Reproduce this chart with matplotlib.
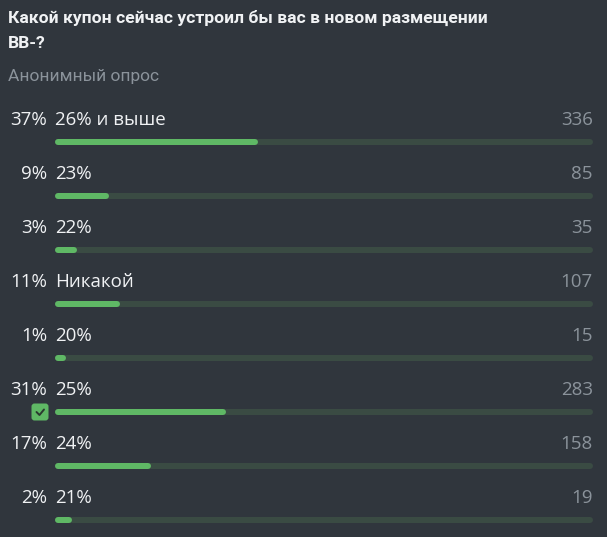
import matplotlib.pyplot as plt
from matplotlib.patches import FancyBboxPatch
from matplotlib.transforms import blended_transform_factory

plt.rcParams['font.family'] = ['Open Sans', 'DejaVu Sans']

title_lines = ["Какой купон сейчас устроил бы вас в новом размещении", "BB-?"]
subtitle = "Анонимный опрос"
options = ["26% и выше", "23%", "22%", "Никакой", "20%", "25%", "24%", "21%"]
percents = [37, 9, 3, 11, 1, 31, 17, 2]
votes = [336, 85, 35, 107, 15, 283, 158, 19]
chosen = 5

BG = '#30363d'
GREEN = '#5fb865'
TRACK = '#3a4b43'
WHITE = '#f0f2f4'
GRAY = '#8b939b'

W, H = 607, 537
fig = plt.figure(figsize=(W / 100, H / 100), dpi=100)
fig.patch.set_facecolor(BG)

# pixel overlay for header and decorations
ax = fig.add_axes([0, 0, 1, 1])
ax.set_xlim(0, W)
ax.set_ylim(H, 0)
ax.axis('off')

# bars axes: x in percent, y in row index
bx = fig.add_axes([0, 0, 1, 1])
px_per_pct = 5.32
x0 = 58
bx.set_xlim(-x0 / px_per_pct, (W - x0) / px_per_pct)
row0, step = 142, 54
bx.set_ylim((H - row0) / step, -row0 / step)
bx.axis('off')
bx.patch.set_alpha(0)

head_font = ['Roboto', 'DejaVu Sans']
ax.text(8, 23, title_lines[0], color=WHITE, fontsize=12.6, fontweight='bold',
        family=head_font, va='baseline')
ax.text(8, 48, title_lines[1], color=WHITE, fontsize=12.6, fontweight='bold',
        family=head_font, va='baseline')
ax.text(8, 81, subtitle, color=GRAY, fontsize=12.5, family=head_font, va='baseline')

tr = blended_transform_factory(bx.transAxes, bx.transData)
lw = 6 * 72 / 100
for i in range(len(options)):
    bx.plot([0, 100], [i, i], color=TRACK, lw=lw, solid_capstyle='round')
    bx.plot([0, percents[i]], [i, i], color=GREEN, lw=lw, solid_capstyle='round')
    yb = i - 17 / step
    bx.text(47 / W, yb, str(percents[i]) + "%", transform=tr, ha='right', va='baseline',
            color=WHITE, fontsize=13.5, fontweight='medium')
    bx.text(55 / W, yb, options[i], transform=tr, ha='left', va='baseline',
            color=WHITE, fontsize=13.5)
    bx.text(593 / W, yb, str(votes[i]), transform=tr, ha='right', va='baseline',
            color=GRAY, fontsize=13.5)

# check box on the chosen option
cy = row0 + step * chosen
box = FancyBboxPatch((31.5, cy - 8.5), 17, 17, boxstyle='round,pad=0,rounding_size=3',
                     fc=GREEN, ec='none')
ax.add_patch(box)
ax.plot([36.5, 39.5, 44], [cy, cy + 3, cy - 2.5], color='#2b3a30', lw=1.4,
        solid_capstyle='round', solid_joinstyle='round')

fig.savefig('out.png', dpi=100, facecolor=BG)
